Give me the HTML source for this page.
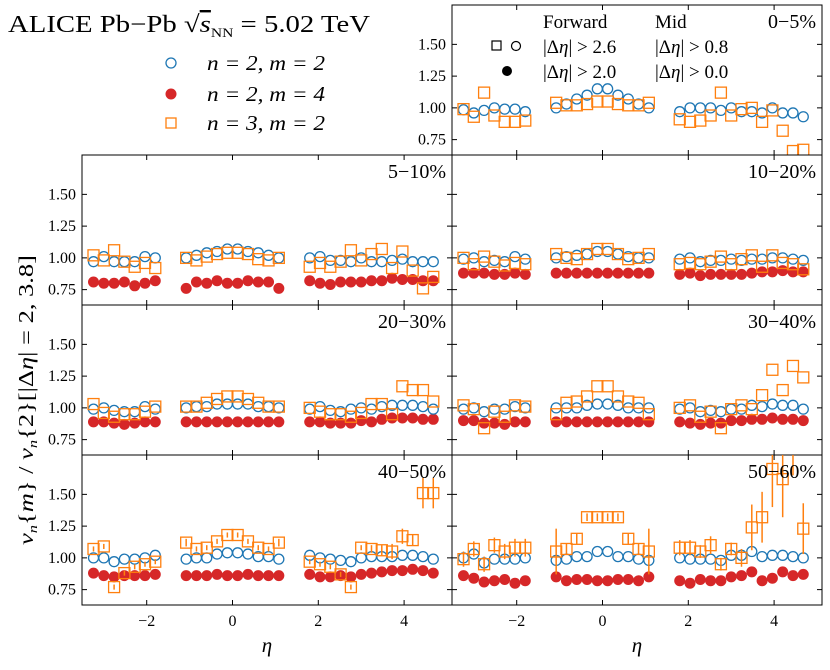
<!DOCTYPE html>
<html><head><meta charset="utf-8">
<style>
body{margin:0;background:#fff;}
svg text{font-family:"Liberation Serif","DejaVu Serif",serif;fill:#000;}
</style></head>
<body>
<svg id="chart" width="830" height="665" viewBox="0 0 830 665" xmlns="http://www.w3.org/2000/svg">
<text x="8" y="32" font-size="24" textLength="362" lengthAdjust="spacingAndGlyphs">ALICE Pb−Pb √<tspan font-style="italic" text-decoration="overline">s</tspan><tspan font-size="13" dy="5">NN</tspan><tspan dy="-5"> = 5.02 TeV</tspan></text>
<g>
<circle cx="171" cy="63" r="5" fill="none" stroke="#1f77b4" stroke-width="1.3"/>
<text x="207" y="70" font-size="21" font-style="italic" textLength="118" lengthAdjust="spacingAndGlyphs">n = 2, m = 2</text>
<circle cx="171" cy="94" r="5.5" fill="#d62728"/>
<text x="207" y="101" font-size="21" font-style="italic" textLength="118" lengthAdjust="spacingAndGlyphs">n = 2, m = 4</text>
<rect x="166" y="118" width="10" height="10" fill="none" stroke="#ff7f0e" stroke-width="1.3"/>
<text x="207" y="130" font-size="21" font-style="italic" textLength="118" lengthAdjust="spacingAndGlyphs">n = 3, m = 2</text>
</g>
<g>
<text x="543" y="28" font-size="19">Forward</text>
<text x="655" y="28" font-size="19">Mid</text>
<rect x="492" y="41" width="9" height="9" fill="none" stroke="#000" stroke-width="1.2"/>
<circle cx="516" cy="46" r="4.5" fill="none" stroke="#000" stroke-width="1.2"/>
<text x="543" y="53" font-size="19">|Δ<tspan font-style="italic">η</tspan>| &gt; 2.6</text>
<text x="655" y="53" font-size="19">|Δ<tspan font-style="italic">η</tspan>| &gt; 0.8</text>
<circle cx="507" cy="71" r="5" fill="#000"/>
<text x="543" y="78" font-size="19">|Δ<tspan font-style="italic">η</tspan>| &gt; 2.0</text>
<text x="655" y="78" font-size="19">|Δ<tspan font-style="italic">η</tspan>| &gt; 0.0</text>
</g>
<text x="637" y="652" font-size="21" font-style="italic" text-anchor="middle">η</text>
<text x="267" y="652" font-size="21" font-style="italic" text-anchor="middle">η</text>
<text transform="translate(33,400) rotate(-90)" font-size="21" text-anchor="middle" textLength="290" lengthAdjust="spacingAndGlyphs"><tspan font-style="italic">v</tspan><tspan font-size="13" font-style="italic" dy="4">n</tspan><tspan dy="-4">{</tspan><tspan font-style="italic">m</tspan>} / <tspan font-style="italic">v</tspan><tspan font-size="13" font-style="italic" dy="4">n</tspan><tspan dy="-4">{2}[|Δ</tspan><tspan font-style="italic">η</tspan>| = 2, 3.8]</text>
</svg>
<script>
const etaBack=[-3.24,-3.0,-2.76,-2.52,-2.28,-2.04,-1.8];
const etaMid=[-1.08,-0.84,-0.6,-0.36,-0.12,0.12,0.36,0.6,0.84,1.08];
const etaFwd=[1.8,2.04,2.28,2.52,2.76,3.0,3.24,3.48,3.72,3.96,4.2,4.44,4.68];
const centLabels=["0−5%","5−10%","10−20%","20−30%","30−40%","40−50%","50−60%"];
const yTicks=[0.75,1.0,1.25,1.5];
const yTickLabels=["0.75","1.00","1.25","1.50"];
const xTicks=[-2,0,2,4];
const xTickLabels=["−2","0","2","4"];
// n=2,m=2 (blue open circles)
const v22_c0=[0.985,0.96,0.98,1.0,0.99,0.99,0.97, 1.0,1.03,1.07,1.1,1.15,1.15,1.1,1.07,1.03,1.0, 0.97,1.0,1.0,1.0,0.98,1.0,0.97,0.97,0.96,1.0,0.96,0.96,0.93];
const v22_c5=[0.97,1.01,0.97,0.97,0.97,1.01,1.0, 1.0,1.02,1.04,1.05,1.07,1.07,1.05,1.04,1.02,1.0, 1.0,1.01,0.98,0.98,0.97,1.0,0.97,0.97,0.98,0.99,0.97,0.97,0.97];
const v22_c10=[0.99,1.0,0.97,0.98,0.97,1.01,0.99, 1.0,1.01,1.02,1.03,1.05,1.05,1.03,1.01,1.0,1.0, 0.99,1.0,0.97,0.98,0.98,0.99,0.98,0.99,0.99,1.0,1.0,0.99,0.98];
const v22_c20=[0.99,1.0,0.98,0.97,0.97,1.01,0.99, 1.0,1.01,1.01,1.03,1.03,1.03,1.03,1.01,1.01,1.0, 0.99,1.01,0.98,0.97,0.99,1.0,0.99,1.01,1.02,1.02,1.02,1.01,0.99];
const v22_c30=[0.99,1.0,0.97,0.99,0.99,1.01,1.0, 1.0,1.0,1.0,1.02,1.03,1.03,1.02,1.0,1.0,1.0, 0.99,1.0,0.97,0.98,0.97,0.99,0.99,1.02,1.01,1.03,1.02,1.02,0.99];
const v22_c40=[1.0,1.0,0.97,0.99,0.99,1.0,1.02, 0.99,1.0,1.0,1.03,1.04,1.04,1.03,1.01,1.01,0.99, 1.02,1.0,0.99,0.98,0.97,1.0,1.01,1.01,1.01,1.02,1.02,1.01,0.99];
const v22_c50=[1.0,1.03,0.96,0.99,0.99,0.99,1.0, 0.98,0.99,1.01,1.01,1.05,1.05,1.01,1.01,0.99,0.98, 1.0,0.99,0.99,0.99,0.98,1.02,1.02,1.05,1.01,1.02,1.02,1.01,1.0];
// n=2,m=4 (red filled circles)
const v24_c5=[0.81,0.80,0.80,0.81,0.78,0.80,0.82, 0.76,0.81,0.80,0.82,0.80,0.80,0.82,0.81,0.81,0.76, 0.82,0.80,0.79,0.81,0.81,0.81,0.82,0.82,0.84,0.83,0.83,0.82,0.82];
const v24_c10=[0.88,0.88,0.88,0.87,0.87,0.88,0.87, 0.88,0.88,0.88,0.88,0.88,0.88,0.88,0.88,0.88,0.88, 0.87,0.88,0.86,0.87,0.87,0.87,0.87,0.88,0.89,0.89,0.90,0.89,0.89];
const v24_c20=[0.89,0.89,0.88,0.87,0.88,0.89,0.89, 0.89,0.89,0.89,0.89,0.89,0.89,0.89,0.89,0.89,0.89, 0.89,0.89,0.88,0.88,0.88,0.90,0.89,0.91,0.92,0.92,0.92,0.91,0.91];
const v24_c30=[0.90,0.90,0.88,0.88,0.87,0.89,0.89, 0.89,0.89,0.89,0.89,0.89,0.89,0.89,0.89,0.89,0.89, 0.89,0.88,0.87,0.88,0.88,0.90,0.90,0.91,0.91,0.92,0.91,0.91,0.90];
const v24_c40=[0.88,0.86,0.85,0.86,0.86,0.86,0.87, 0.86,0.86,0.86,0.87,0.86,0.86,0.87,0.86,0.86,0.86, 0.87,0.85,0.85,0.86,0.85,0.87,0.88,0.89,0.90,0.90,0.91,0.90,0.88];
const v24_c50=[0.86,0.84,0.81,0.82,0.83,0.80,0.82, 0.85,0.82,0.83,0.83,0.82,0.82,0.83,0.83,0.82,0.85, 0.82,0.80,0.83,0.82,0.82,0.85,0.86,0.89,0.82,0.84,0.89,0.86,0.87];
// n=3,m=2 (orange open squares)
const v32_c0=[0.99,0.93,1.12,0.94,0.89,0.89,0.90, 1.04,1.02,1.02,1.03,1.05,1.05,1.03,1.02,1.02,1.04, 0.91,0.89,0.90,0.94,1.12,0.94,0.99,1.0,0.89,0.98,0.82,0.66,0.67];
const v32_c5=[1.02,0.98,1.06,0.97,0.93,0.96,0.92, 1.0,0.98,1.01,1.03,1.04,1.04,1.03,0.99,0.98,1.0, 0.93,0.96,0.93,0.97,1.06,0.98,1.03,1.07,0.92,1.05,0.90,0.76,0.85];
const v32_c10=[1.0,0.95,1.01,0.97,0.94,0.96,0.95, 1.03,1.0,0.99,1.03,1.07,1.07,1.03,0.99,1.0,1.03, 0.95,0.96,0.95,0.97,1.01,0.95,0.99,1.02,0.93,1.02,0.96,0.95,0.91];
const v32_c20=[1.03,0.96,0.93,0.95,0.95,0.97,1.01, 1.01,1.01,1.04,1.07,1.09,1.09,1.07,1.04,1.01,1.01, 1.0,0.97,0.95,0.95,0.93,0.96,1.03,1.03,0.95,1.17,1.14,1.14,1.05];
const v32_c30=[1.02,0.99,0.84,0.97,0.93,1.02,1.01, 0.95,1.04,1.05,1.09,1.17,1.17,1.09,1.05,1.04,0.95, 1.0,1.02,0.93,0.97,0.84,0.99,1.02,0.99,1.10,1.30,1.14,1.33,1.24];
const v32_c40=[1.07,1.09,0.77,0.88,0.93,0.95,0.97, 1.12,1.07,1.08,1.13,1.18,1.18,1.13,1.08,1.07,1.12, 0.97,0.95,0.93,0.87,0.77,1.08,1.07,1.06,1.05,1.17,1.14,1.51,1.51];
const v32_c50=[0.99,1.07,0.95,1.10,1.05,1.08,1.08, 1.05,1.07,1.15,1.32,1.32,1.32,1.32,1.15,1.07,1.05, 1.08,1.08,1.05,1.10,0.95,1.07,1.0,1.24,1.32,1.70,1.62,1.95,1.23];
const e32_c40=[0.02,0.02,0.02,0.02,0.02,0.02,0.02, 0.03,0.02,0.02,0.02,0.02,0.02,0.02,0.02,0.02,0.03, 0.02,0.02,0.02,0.02,0.02,0.02,0.03,0.04,0.06,0.06,0.04,0.12,0.12];
const e32_c50=[0.06,0.06,0.06,0.06,0.06,0.07,0.07, 0.18,0.04,0.04,0.03,0.03,0.03,0.03,0.04,0.04,0.18, 0.06,0.06,0.05,0.07,0.05,0.05,0.07,0.18,0.2,0.3,0.3,0.3,0.2];

const svg=document.getElementById('chart');
const NS='http://www.w3.org/2000/svg';
const etaAll=etaBack.concat(etaMid,etaFwd);
const panels=[
 {col:1,row:0,lab:0,b:v22_c0,r:null,o:v32_c0,e:null},
 {col:0,row:1,lab:1,b:v22_c5,r:v24_c5,o:v32_c5,e:null},
 {col:1,row:1,lab:2,b:v22_c10,r:v24_c10,o:v32_c10,e:null},
 {col:0,row:2,lab:3,b:v22_c20,r:v24_c20,o:v32_c20,e:null},
 {col:1,row:2,lab:4,b:v22_c30,r:v24_c30,o:v32_c30,e:null},
 {col:0,row:3,lab:5,b:v22_c40,r:v24_c40,o:v32_c40,e:e32_c40},
 {col:1,row:3,lab:6,b:v22_c50,r:v24_c50,o:v32_c50,e:e32_c50}
];
const PW=370,PH=150,LEFT=82,TOP=5,YMAX=1.81,PXY=127,PXX=42.9,X0OFF=150.5;
function mk(tag,attrs,parent){const el=document.createElementNS(NS,tag);for(const k in attrs)el.setAttribute(k,attrs[k]);(parent||svg).appendChild(el);return el;}
panels.forEach((p,pi)=>{
  const px=LEFT+p.col*PW, py=TOP+p.row*PH;
  const xs=v=>px+X0OFF+v*PXX;
  const ys=v=>py+(YMAX-v)*PXY;
  const g=mk('g',{});
  
  
  const cid='clip'+pi;
  const cp=mk('clipPath',{id:cid},g);mk('rect',{x:px,y:py,width:PW,height:PH},cp);
  const frame=mk('rect',{x:px,y:py,width:PW,height:PH,fill:'none',stroke:'#000','stroke-width':1},g);
  
  
  yTicks.forEach((t,i)=>{
    const y=ys(t);
    mk('line',{x1:px,x2:px+5,y1:y,y2:y,stroke:'#000'},g);
    mk('line',{x1:px+PW-5,x2:px+PW,y1:y,y2:y,stroke:'#000'},g);
    if(p.col===0||p.row===0){const tl=mk('text',{x:px-6,y:y+5,'font-size':16,'text-anchor':'end'},g);tl.textContent=yTickLabels[i];
      
      }
  });
  xTicks.forEach((t,i)=>{
    const x=xs(t);
    mk('line',{x1:x,x2:x,y1:py,y2:py+5,stroke:'#000'},g);
    mk('line',{x1:x,x2:x,y1:py+PH-5,y2:py+PH,stroke:'#000'},g);
    if(p.row===3){const tl=mk('text',{x:x,y:py+PH+21,'font-size':16,'text-anchor':'middle'},g);tl.textContent=xTickLabels[i];
      
      }
  });
  const marks=mk('g',{'clip-path':'url(#'+cid+')'},g);
  if(p.r){p.r.forEach((v,i)=>{const c=mk('circle',{cx:xs(etaAll[i]),cy:ys(v),r:5.5,fill:'#d62728'},marks);
    
    });}
  p.b.forEach((v,i)=>{const c=mk('circle',{cx:xs(etaAll[i]),cy:ys(v),r:5,fill:'none',stroke:'#1f77b4','stroke-width':1.3},marks);
    
    });
  p.o.forEach((v,i)=>{
    const x=xs(etaAll[i]),y=ys(v);
    if(p.e){const e=p.e[i];mk('line',{x1:x,x2:x,y1:ys(v+e),y2:ys(v-e),stroke:'#ff7f0e','stroke-width':1.5},marks);}
    const s=mk('rect',{x:x-5.5,y:y-5.5,width:11,height:11,fill:'none',stroke:'#ff7f0e','stroke-width':1.3},marks);
    
    
  });
  const lt=mk('text',{x:px+PW-6,y:py+23,'font-size':20,'text-anchor':'end'},g);
  lt.textContent=centLabels[p.lab];
  
  
});
</script>
</body></html>
